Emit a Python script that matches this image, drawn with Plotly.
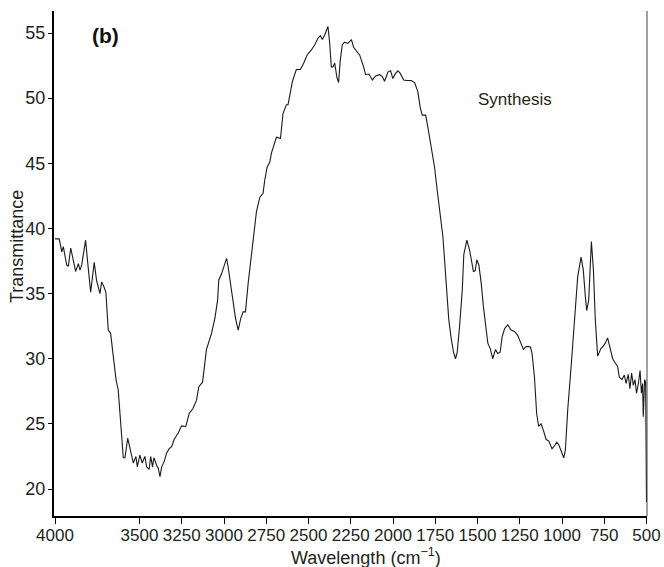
import plotly.graph_objects as go

wavenumber = [4000, 3975, 3960, 3951, 3931, 3921, 3907, 3895, 3878, 3862, 3852, 3842, 3833, 3819,
              3809, 3789, 3768, 3754, 3734, 3724, 3710, 3699, 3685, 3671, 3639, 3626, 3596, 3586,
              3570, 3557, 3537, 3521, 3513, 3498, 3484, 3468, 3458, 3443, 3434, 3423, 3415, 3399,
              3389, 3379, 3369, 3354, 3340, 3324, 3310, 3295, 3271, 3251, 3226, 3206, 3183, 3163,
              3149, 3127, 3104, 3074, 3054, 3038, 3031, 3015, 2985, 2976, 2946, 2932, 2916, 2901,
              2887, 2873, 2857, 2828, 2808, 2788, 2769, 2759, 2745, 2729, 2719, 2690, 2666, 2651,
              2631, 2621, 2595, 2572, 2548, 2528, 2509, 2483, 2463, 2444, 2430, 2418, 2404, 2385,
              2375, 2365, 2355, 2345, 2332, 2322, 2312, 2300, 2286, 2267, 2246, 2233, 2217, 2197,
              2174, 2162, 2142, 2122, 2103, 2079, 2063, 2050, 2030, 2014, 2001, 1985, 1971, 1957,
              1937, 1918, 1892, 1872, 1853, 1839, 1827, 1807, 1794, 1774, 1754, 1741, 1729, 1715,
              1705, 1695, 1685, 1670, 1656, 1642, 1630, 1620, 1606, 1590, 1581, 1563, 1547, 1534,
              1524, 1514, 1504, 1492, 1478, 1465, 1449, 1439, 1425, 1410, 1394, 1380, 1366, 1354,
              1340, 1321, 1301, 1281, 1262, 1246, 1228, 1216, 1203, 1187, 1177, 1163, 1150, 1138,
              1124, 1110, 1094, 1079, 1059, 1045, 1031, 1019, 1005, 990, 980, 966, 946, 927,
              907, 887, 874, 862, 854, 842, 834, 826, 814, 803, 789, 779, 769, 760,
              744, 730, 716, 700, 684, 671, 661, 645, 631, 621, 608, 598, 588, 578,
              568, 559, 548, 538, 530, 523, 519, 511, 505, 502, 500]

transmittance = [39.2, 39.2, 38.2, 38.6, 37.2, 37.1, 38.5, 37.7, 36.7, 37.3, 36.8, 37.2, 38.1, 39.1,
                 37.7, 35.1, 37.4, 36.0, 35.0, 35.9, 35.5, 35.1, 32.2, 31.95, 28.4, 27.6, 22.4, 22.4,
                 23.9, 23.1, 22.0, 22.5, 21.7, 22.6, 22.0, 22.5, 21.7, 21.5, 22.5, 21.7, 22.4, 21.85,
                 21.6, 20.95, 21.7, 22.1, 22.75, 23.1, 23.25, 23.8, 24.3, 24.85, 24.8, 25.8, 26.2, 26.8,
                 27.85, 28.2, 30.7, 31.95, 33.1, 34.5, 36.05, 36.5, 37.7, 37.1, 34.4, 33.1, 32.2, 33.1,
                 33.6, 33.6, 35.8, 39.1, 41.3, 42.4, 42.7, 43.7, 44.7, 45.1, 45.8, 47.0, 46.9, 48.8,
                 49.5, 49.5, 51.3, 52.2, 52.2, 52.7, 53.3, 53.7, 54.1, 54.6, 54.8, 54.5, 54.85, 55.5,
                 54.3, 52.4, 52.4, 52.7, 51.6, 51.2, 52.9, 54.1, 54.3, 54.2, 54.5, 53.9, 53.6, 53.3,
                 52.4, 51.8, 51.85, 51.4, 51.7, 51.8, 51.65, 51.3, 52.0, 52.1, 51.5, 51.9, 52.1, 51.9,
                 51.4, 51.35, 51.35, 51.2, 50.5, 49.3, 48.7, 48.7, 47.8, 46.3, 44.7, 43.2, 41.9, 40.5,
                 39.4, 37.6, 35.5, 33.0, 31.6, 30.5, 30.0, 30.5, 32.5, 35.3, 38.0, 39.1, 38.35, 37.3,
                 36.7, 36.75, 37.6, 37.2, 35.8, 34.0, 31.95, 31.2, 30.8, 30.0, 30.7, 30.4, 30.5, 31.7,
                 32.3, 32.6, 32.2, 32.1, 31.8, 31.3, 30.7, 30.9, 30.95, 30.9, 30.4, 28.6, 25.8, 24.8,
                 25.0, 24.5, 23.8, 23.7, 23.1, 23.3, 23.6, 23.4, 22.9, 22.4, 23.0, 26.1, 29.4, 32.5,
                 36.3, 37.8, 36.8, 34.8, 33.7, 34.5, 37.1, 39.0, 36.8, 33.0, 30.2, 30.5, 30.8, 30.9,
                 31.2, 31.6, 30.8, 30.0, 29.65, 29.4, 28.6, 28.4, 28.75, 28.1, 28.8, 27.7, 28.9, 27.95,
                 28.4, 27.35, 28.1, 29.1, 27.35, 28.1, 25.55, 28.4, 28.2, 22.0, 19.0]

x_ticks = [4000, 3500, 3250, 3000, 2750, 2500, 2250, 2000, 1750, 1500, 1250, 1000, 750, 500]
y_ticks = [20, 25, 30, 35, 40, 45, 50, 55]

FONT = "Liberation Sans, Arial, Helvetica, sans-serif"
TXT = "#231f20"

W, H = 664, 567
L, R, T, B = 54, 647, 11, 516
PW, PH = R - L, B - T


def px(xp):
    return (xp - L) / PW


def py(yp):
    return (B - yp) / PH


fig = go.Figure()
fig.add_trace(go.Scatter(x=wavenumber, y=transmittance, mode="lines",
                         line=dict(color="#1a1a1a", width=1.1), showlegend=False,
                         hoverinfo="skip"))

fig.update_layout(
    width=W, height=H,
    margin=dict(l=L, r=W - R, t=T, b=H - B, autoexpand=False),
    paper_bgcolor="white", plot_bgcolor="white",
    font=dict(family=FONT, size=17, color=TXT),
    xaxis=dict(range=[4006, 497], tickmode="array", tickvals=x_ticks,
               ticktext=[str(v) for v in x_ticks],
               showgrid=False, zeroline=False, showline=True, linecolor="black", linewidth=2,
               ticks="outside", ticklen=6, tickwidth=1, tickcolor="black",
               ticklabelstandoff=-3,
               tickfont=dict(family=FONT, size=17, color=TXT)),
    yaxis=dict(range=[17.93, 56.69], tickmode="array", tickvals=y_ticks,
               showgrid=False, zeroline=False, showline=True, linecolor="black", linewidth=2,
               ticks="outside", ticklen=4, tickwidth=1, tickcolor="black",
               ticklabelstandoff=-1,
               tickfont=dict(family=FONT, size=18, color=TXT)),
)

fig.add_shape(type="line", xref="paper", yref="paper", x0=1, x1=1, y0=0, y1=1,
              line=dict(color="#444444", width=1))

common = dict(xref="paper", yref="paper", showarrow=False, xanchor="center", yanchor="middle")
fig.add_annotation(text="<b>(b)</b>", x=px(105), y=py(35),
                   font=dict(family=FONT, size=21, color="#111111"), **common)
fig.add_annotation(text="Synthesis", x=px(515), y=py(99),
                   font=dict(family=FONT, size=17, color=TXT), **common)
fig.add_annotation(text="Wavelength (cm<sup>−1</sup>)", x=px(366), y=py(556),
                   font=dict(family=FONT, size=18, color=TXT), **common)
fig.add_annotation(text="Transmittance", textangle=-90, x=px(17), y=py(247),
                   font=dict(family=FONT, size=18, color=TXT), **common)

fig.write_html("out.html", config={"displayModeBar": False},
               post_script="document.body.style.margin='0';document.body.style.overflow='hidden';")
